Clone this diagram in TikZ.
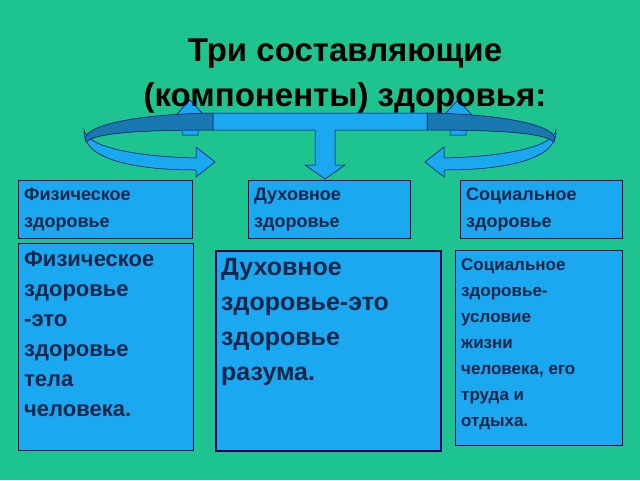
\documentclass[tikz,border=0pt]{standalone}
\usepackage{fontspec}
\setmainfont{Liberation Sans}
\begin{document}
\begin{tikzpicture}[x=1pt,y=-1pt,
  box/.style={draw=blue!30!black,line width=1pt,fill=boxc},
  txt/.style={anchor=north west,align=left,text=navy,font=\bfseries,inner xsep=6pt,inner ysep=8pt},
  arr/.style={fill=boxc,draw=blue!40!black,line width=0.5pt}]
\definecolor{bg}{HTML}{1EC490}
\definecolor{boxc}{HTML}{1AA8F0}
\definecolor{darkc}{HTML}{1A78B0}
\definecolor{navy}{HTML}{16254A}
\fill[bg] (0,0) rectangle (640,480);
\useasboundingbox (0,0) rectangle (640,480);
% hidden back arrow heads
\fill[arr] (182,135) -- (182,115) -- (176,115) -- (190,100) -- (204,115) -- (198,115) -- (198,135) -- cycle;
\fill[arr] (450,135) -- (450,115) -- (444,115) -- (458,100) -- (472,115) -- (466,115) -- (466,135) -- cycle;
\node[font=\fontsize{33}{45}\selectfont\bfseries,align=center] (title) at (345,76) {Три составляющие\\(компоненты) здоровья:};
% left loop
\path[arr] (84,130) .. controls (88,150) and (150,157) .. (196,158) -- (196,147) -- (215,162) -- (196,177) -- (196,170) .. controls (130,170) and (82,158) .. (84,130) -- cycle;
\path[arr,fill=darkc] (213,113) -- (213,130) .. controls (140,130) and (95,133) .. (86,142) .. controls (78,125) and (140,114) .. (213,113) -- cycle;
% right loop
\path[arr] (556,130) .. controls (552,150) and (490,157) .. (444,158) -- (444,147) -- (425,162) -- (444,177) -- (444,170) .. controls (510,170) and (558,158) .. (556,130) -- cycle;
\path[arr,fill=darkc] (427,113) -- (427,130) .. controls (500,130) and (545,133) .. (554,142) .. controls (562,125) and (500,114) .. (427,113) -- cycle;
% central bar and down arrow
\path[arr] (213,113) -- (427,113) -- (427,130) -- (335,130) -- (335,165) -- (345,165) -- (325,179) -- (305,165) -- (315,165) -- (315,130) -- (213,130) -- cycle;
% header boxes
\node[box,minimum width=174,minimum height=58,anchor=north west] (h1) at (18,180) {};
\node[txt,font=\fontsize{18}{27}\selectfont\bfseries] at (h1.north west) {Физическое\\здоровье};
\node[box,minimum width=162,minimum height=58,anchor=north west] (h2) at (248,180) {};
\node[txt,font=\fontsize{18}{27}\selectfont\bfseries] at (h2.north west) {Духовное\\здоровье};
\node[box,minimum width=162,minimum height=58,anchor=north west] (h3) at (460,180) {};
\node[txt,font=\fontsize{18}{27}\selectfont\bfseries] at (h3.north west) {Социальное\\здоровье};
% big boxes
\node[box,minimum width=175,minimum height=207,anchor=north west] (b1) at (18,243) {};
\node[txt,font=\fontsize{22}{30}\selectfont\bfseries] at (b1.north west) {Физическое\\здоровье\\-это\\здоровье\\тела\\человека.};
\node[box,line width=2pt,minimum width=225,minimum height=200,anchor=north west] (b2) at (215,250) {};
\node[txt,font=\fontsize{25}{35}\selectfont\bfseries] at (b2.north west) {Духовное\\здоровье-это\\здоровье\\разума.};
\node[box,minimum width=167,minimum height=195,anchor=north west] (b3) at (455,250) {};
\node[txt,font=\fontsize{17}{26}\selectfont\bfseries] at (b3.north west) {Социальное\\здоровье-\\условие\\жизни\\человека, его\\труда и\\отдыха.};
\end{tikzpicture}
\end{document}
